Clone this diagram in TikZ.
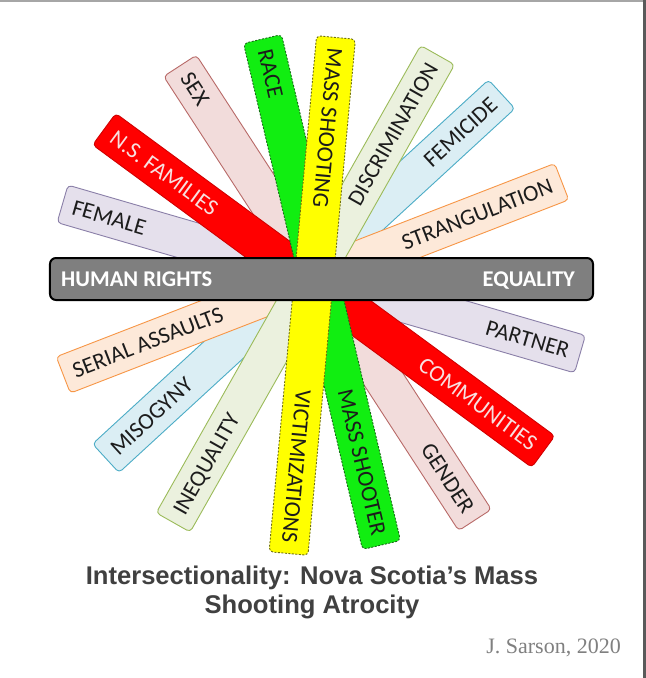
\documentclass[tikz,border=0pt]{standalone}
\usepackage{fontspec}
\setmainfont{Carlito}
\newfontfamily\titlefont{Liberation Sans}
\newfontfamily\sigfont{Liberation Serif}
\usetikzlibrary{calc}
\definecolor{lavfill}{HTML}{E5E0EC}\definecolor{lavdraw}{HTML}{8A7FA8}
\definecolor{pinkfill}{HTML}{F2DCDB}\definecolor{pinkdraw}{HTML}{B86A68}
\definecolor{redfill}{HTML}{FF0000}\definecolor{reddraw}{HTML}{D00000}
\definecolor{grnfill}{HTML}{11EE11}\definecolor{grndraw}{HTML}{1A6A1A}
\definecolor{yelfill}{HTML}{FFFF00}\definecolor{yeldraw}{HTML}{6E6E10}
\definecolor{olvfill}{HTML}{EBF1DE}\definecolor{olvdraw}{HTML}{9BBB59}
\definecolor{blufill}{HTML}{DBEEF4}\definecolor{bludraw}{HTML}{4BACC6}
\definecolor{pchfill}{HTML}{FDE9D9}\definecolor{pchdraw}{HTML}{F79646}
\definecolor{hrfill}{HTML}{7F7F7F}
\definecolor{txtdark}{HTML}{1C1C1C}
\definecolor{redtxt}{HTML}{F7E0E0}
\definecolor{titlegray}{HTML}{404040}
\definecolor{siggray}{HTML}{808080}
\definecolor{framegray}{HTML}{5A5A5A}
\tikzset{
  bar/.style={rectangle, rounded corners=4bp, minimum height=39bp, inner sep=0pt, line width=0.9bp},
  lav/.style={bar, fill=lavfill, draw=lavdraw},
  pnk/.style={bar, fill=pinkfill, draw=pinkdraw},
  rdb/.style={bar, fill=redfill, draw=reddraw},
  grb/.style={bar, fill=grnfill, draw=grndraw, dash pattern=on 2bp off 1.5bp},
  ylb/.style={bar, fill=yelfill, draw=yeldraw, dash pattern=on 2bp off 1.5bp},
  olb/.style={bar, fill=olvfill, draw=olvdraw},
  blb/.style={bar, fill=blufill, draw=bludraw},
  pcb/.style={bar, fill=pchfill, draw=pchdraw},
  hrb/.style={bar, fill=hrfill, draw=black, line width=2bp, rounded corners=6bp, minimum height=42bp},
  lbl/.style={inner sep=0pt, text height=15bp, text depth=0pt, text=txtdark, font=\fontsize{23bp}{27bp}\selectfont},
  rlbl/.style={lbl, text=redtxt},
  hlbl/.style={lbl, text=white, font=\fontsize{22.5bp}{26bp}\selectfont\bfseries},
}
\begin{document}
\begin{tikzpicture}[x=1bp,y=-1bp]
\useasboundingbox (0,0) rectangle (646,678);
\fill[white] (0,0) rectangle (646,678);
\fill[gray!70] (0,0) rectangle (646,2);
\fill[framegray] (643,0) rectangle (646,678);

% bars, bottom to top
\node[lav, minimum width=538.8bp, rotate=-16.2] (blav) at (321.25,279) {};
\node[pnk, minimum width=541.6bp, rotate=-57.0] (bpnk) at (327.5,292.9) {};
\node[blb, minimum width=537.9bp, rotate=42.6] (bblu) at (303.75,276.25) {};
\node[pcb, minimum width=534.6bp, rotate=21.2] (bpch) at (312.5,278.3) {};
\node[olb, minimum width=537bp, rotate=60.5] (bolv) at (305.4,288.75) {};
\node[rdb, minimum width=544.8bp, rotate=-36.3] (bred) at (323.75,290.4) {};
\node[grb, minimum width=519.8bp, rotate=-76.77] (bgrn) at (322,292) {};
\node[ylb, minimum width=518.2bp, rotate=-95.26] (byel) at (312.25,295.5) {};
\node[hrb, minimum width=543bp] (bhr) at (321.5,279) {};

% labels
\node[lbl, anchor=west, rotate=-16.2] (tfemale) at ($(blav.west)!11bp!(blav.east)$) {FEMALE};
\node[lbl, anchor=east, rotate=-16.2] (tpartner) at ($(blav.east)!12bp!(blav.west)$) {PARTNER};
\node[lbl, anchor=west, rotate=-57.0] (tsex) at ($(bpnk.west)!11bp!(bpnk.east)$) {SEX};
\node[lbl, anchor=east, rotate=-57.0] (tgender) at ($(bpnk.east)!11bp!(bpnk.west)$) {GENDER};
\node[lbl, anchor=west, rotate=42.6] (tmisog) at ($(bblu.west)!11bp!(bblu.east)$) {MISOGYNY};
\node[lbl, anchor=east, rotate=42.6] (tfemic) at ($(bblu.east)!11bp!(bblu.west)$) {FEMICIDE};
\node[lbl, anchor=west, rotate=21.2] (tserial) at ($(bpch.west)!11bp!(bpch.east)$) {SERIAL ASSAULTS};
\node[lbl, anchor=east, rotate=21.2] (tstrang) at ($(bpch.east)!11bp!(bpch.west)$) {STRANGULATION};
\node[lbl, anchor=west, rotate=60.5] (tineq) at ($(bolv.west)!11bp!(bolv.east)$) {INEQUALITY};
\node[lbl, anchor=east, rotate=60.5] (tdiscr) at ($(bolv.east)!11bp!(bolv.west)$) {DISCRIMINATION};
\node[rlbl, anchor=west, rotate=-36.3] (tnsf) at ($(bred.west)!11bp!(bred.east)$) {N.S. FAMILIES};
\node[rlbl, anchor=east, rotate=-36.3] (tcomm) at ($(bred.east)!11bp!(bred.west)$) {COMMUNITIES};
\node[lbl, anchor=west, rotate=-76.77] (trace) at ($(bgrn.west)!11bp!(bgrn.east)$) {RACE};
\node[lbl, anchor=east, rotate=-76.77] (tshooter) at ($(bgrn.east)!11bp!(bgrn.west)$) {MASS SHOOTER};
\node[lbl, anchor=west, rotate=-95.26] (tshooting) at ($(byel.west)!11bp!(byel.east)$) {MASS SHOOTING};
\node[lbl, anchor=east, rotate=-95.26] (tvict) at ($(byel.east)!11bp!(byel.west)$) {VICTIMIZATIONS};
\node[hlbl, anchor=west] (thr) at ($(bhr.west)!12bp!(bhr.east)$) {HUMAN RIGHTS};
\node[hlbl, anchor=east] (teq) at ($(bhr.east)!19bp!(bhr.west)$) {EQUALITY};

% title and signature
\node[align=center, text=titlegray, font=\titlefont\bfseries\fontsize{25.6bp}{29bp}\selectfont] (title) at (312,592) {Intersectionality: Nova Scotia’s Mass\\Shooting Atrocity};
\node[anchor=east, text=siggray, font=\sigfont\fontsize{22bp}{26bp}\selectfont, inner sep=0pt] (sig) at (621,648) {J. Sarson, 2020};
\end{tikzpicture}
\end{document}
